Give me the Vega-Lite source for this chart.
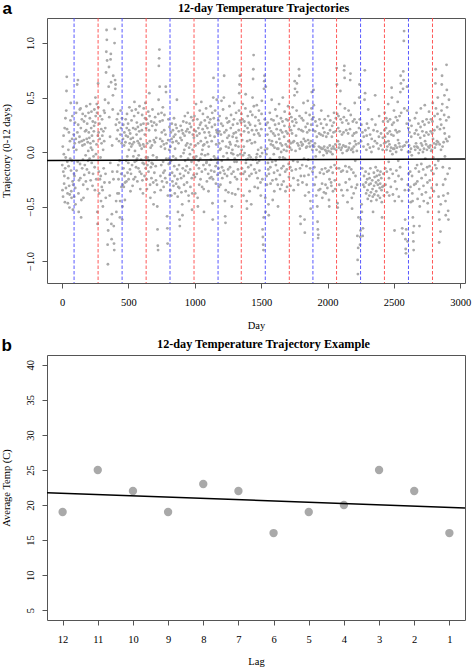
{
"$schema": "https://vega.github.io/schema/vega-lite/v6.json",
"background": "white",
"padding": {"left": 0, "top": -2, "right": 0, "bottom": 0},
"spacing": 3,
"config": {
"view": {"stroke": "#555"},
"axis": {"labelFont": "Liberation Serif", "titleFont": "Liberation Serif", "labelFontSize": 10.5, "titleFontSize": 10.5, "titleFontWeight": "normal", "labelColor": "#000", "titleColor": "#000", "tickColor": "#555", "domain": false, "grid": false, "tickSize": 5, "labelPadding": 9, "labelOverlap": false, "labelFlush": false}
},
"vconcat": [
{
"width": 418, "height": 265,
"resolve": {"axis": {"x": "independent", "y": "independent"}},
"layer": [
{"data": {"values": "day,traj\n1,-0.12\n3,-0.35\n5,0.05\n7,-0.41\n9,-0.18\n11,0.15\n13,-0.02\n15,-0.29\n17,-0.22\n19,0.22\n21,-0.46\n23,-0.15\n25,0.31\n27,-0.05\n29,-0.33\n31,0.38\n33,0.56\n35,0.69\n37,0.21\n39,-0.09\n41,-0.38\n43,-0.47\n45,-0.24\n47,0.02\n49,-0.13\n51,0.18\n53,-0.31\n55,-0.51\n57,-0.39\n59,0.1\n61,-0.06\n63,0.29\n65,0.45\n67,-0.17\n69,-0.36\n71,-0.42\n73,-0.08\n75,0.12\n77,0.33\n79,-0.27\n81,-0.53\n83,-0.3\n85,0.04\n87,0.16\n89,-0.2\n91,-0.41\n93,-0.22\n95,0.08\n97,0.27\n99,-0.33\n101,-0.48\n103,0.12\n105,0.36\n107,0.02\n109,-0.17\n111,0.45\n113,0.62\n115,0.18\n117,-0.09\n119,0.66\n121,0.25\n123,-0.38\n125,-0.55\n127,-0.26\n129,0.09\n131,0.14\n133,0.39\n135,-0.11\n137,-0.24\n139,0.4\n141,0.22\n143,-0.6\n145,-0.44\n147,0.1\n149,0.3\n151,-0.15\n153,0.06\n155,0.35\n157,-0.07\n159,-0.3\n161,-0.42\n163,0.11\n165,0.28\n167,-0.21\n169,0.07\n171,-0.12\n173,0.19\n175,0.33\n177,-0.03\n179,-0.27\n181,0.2\n183,0.42\n185,0.12\n187,-0.16\n189,0.26\n191,-0.34\n193,0.09\n195,-0.08\n197,0.01\n199,0.36\n201,0.18\n203,-0.19\n205,0.13\n207,-0.06\n209,0.31\n211,0.44\n213,0.08\n215,-0.26\n217,0.04\n219,0.22\n221,0.37\n223,-0.1\n225,0.15\n227,0.02\n229,-0.31\n231,0.28\n233,-0.2\n235,0.1\n237,-0.04\n239,0.19\n241,0.24\n243,0.39\n245,-0.14\n247,-0.35\n249,0.27\n251,0.5\n253,0.33\n255,-0.02\n257,-0.25\n259,0.07\n261,0.44\n263,0.36\n265,-0.55\n267,-0.66\n269,0.15\n271,0.63\n273,0.41\n275,0.18\n277,-0.18\n279,-0.38\n281,0.26\n283,0.12\n285,-0.25\n287,0.33\n289,-0.05\n291,-0.22\n293,-0.45\n295,0.21\n297,0.08\n299,-0.32\n301,0.3\n303,0.15\n305,-0.35\n307,-0.5\n309,0.02\n311,0.19\n313,-0.15\n315,0.38\n317,0.1\n319,-0.28\n321,0.36\n323,0.48\n325,0.22\n327,-0.2\n329,-0.42\n331,0.73\n333,0.92\n335,1.12\n337,1.03\n339,0.84\n341,-0.62\n343,-0.85\n345,-1.03\n347,-0.72\n349,0.45\n351,0.6\n353,0.78\n355,0.32\n357,-0.28\n359,-0.4\n361,0.14\n363,-0.1\n365,0.85\n367,0.9\n369,0.64\n371,-0.66\n373,-0.8\n375,-0.57\n377,0.06\n379,-0.18\n381,0.39\n383,0.52\n385,0.7\n387,-0.25\n389,-0.68\n391,-0.84\n393,-0.9\n395,1.0\n397,1.13\n399,0.66\n401,0.58\n403,0.62\n405,0.25\n407,-0.45\n409,-0.55\n411,0.12\n413,0.3\n415,-0.18\n417,-0.38\n419,0.2\n421,0.35\n423,-0.12\n425,-0.25\n427,-0.38\n429,0.1\n431,0.27\n433,-0.08\n435,-0.6\n437,-0.45\n439,0.16\n441,0.38\n443,0.22\n445,-0.2\n447,-0.32\n449,0.08\n451,0.31\n453,-0.62\n455,-0.5\n457,-0.3\n459,0.12\n461,0.25\n463,-0.15\n465,-0.32\n467,0.06\n469,0.18\n471,-0.22\n473,-0.44\n475,-0.28\n477,0.09\n479,0.3\n481,0.15\n483,-0.08\n485,-0.27\n487,0.22\n489,0.35\n491,-0.04\n493,-0.19\n495,0.14\n497,0.26\n499,-0.1\n501,-0.25\n503,0.02\n505,0.2\n507,0.41\n509,0.08\n511,-0.16\n513,0.17\n515,-0.36\n517,0.12\n519,-0.2\n521,0.05\n523,0.29\n525,0.38\n527,-0.12\n529,0.07\n531,-0.31\n533,0.13\n535,0.22\n537,-0.04\n539,-0.25\n541,0.09\n543,0.33\n545,0.46\n547,-0.09\n549,0.01\n551,-0.23\n553,0.21\n555,0.39\n557,-0.14\n559,-0.08\n561,0.16\n563,0.27\n565,-0.06\n567,-0.27\n569,0.1\n571,0.23\n573,0.36\n575,-0.15\n577,-0.03\n579,0.08\n581,0.19\n583,0.42\n585,-0.18\n587,0.06\n589,-0.34\n591,0.12\n593,0.25\n595,-0.07\n597,-0.2\n599,0.03\n601,0.2\n603,0.34\n605,-0.26\n607,-0.1\n609,-0.38\n611,0.07\n613,0.26\n615,0.4\n617,-0.11\n619,0.05\n621,-0.22\n623,0.16\n625,0.31\n627,0.45\n629,-0.15\n631,-0.05\n633,0.22\n635,0.3\n637,-0.25\n639,-0.34\n641,0.08\n643,-0.12\n645,-0.05\n647,0.26\n649,0.37\n651,-0.18\n653,-0.08\n655,0.2\n657,0.54\n659,0.33\n661,0.1\n663,-0.3\n665,-0.42\n667,0.04\n669,-0.14\n671,0.28\n673,-0.24\n675,-0.1\n677,0.06\n679,0.24\n681,0.39\n683,-0.11\n685,-0.03\n687,-0.28\n689,-0.48\n691,0.11\n693,0.27\n695,-0.19\n697,-0.37\n699,0.09\n701,0.32\n703,0.2\n705,-0.13\n707,-0.26\n709,0.13\n711,0.25\n713,-0.05\n715,-0.3\n717,-0.5\n719,-0.71\n721,-0.86\n723,-0.9\n725,0.35\n727,0.48\n729,0.79\n731,0.86\n733,0.94\n735,0.6\n737,0.28\n739,0.12\n741,-0.22\n743,-0.35\n745,0.05\n747,-0.12\n749,0.36\n751,0.18\n753,-0.27\n755,0.1\n757,0.29\n759,0.41\n761,-0.09\n763,-0.19\n765,-0.32\n767,0.07\n769,0.2\n771,0.34\n773,-0.17\n775,0.03\n777,-0.24\n779,0.16\n781,0.6\n783,0.55\n785,-0.06\n787,0.08\n789,-0.28\n791,-0.59\n793,-0.7\n795,-0.84\n797,-0.4\n799,0.11\n801,0.3\n803,-0.11\n805,-0.06\n807,0.02\n809,0.23\n811,-0.21\n813,-0.1\n815,-0.35\n817,0.05\n819,0.18\n821,-0.08\n823,-0.4\n825,0.12\n827,0.26\n829,-0.19\n831,-0.27\n833,0.09\n835,0.2\n837,-0.04\n839,-0.31\n841,0.14\n843,0.31\n845,-0.13\n847,-0.22\n849,-0.38\n851,0.03\n853,0.16\n855,0.25\n857,-0.06\n859,-0.29\n861,0.1\n863,0.22\n865,0.48\n867,-0.16\n869,-0.25\n871,-0.41\n873,-0.55\n875,-0.32\n877,0.08\n879,0.19\n881,-0.12\n883,-0.33\n885,-0.62\n887,-0.68\n889,-0.2\n891,0.13\n893,0.24\n895,-0.04\n897,-0.24\n899,-0.37\n901,0.11\n903,0.2\n905,-0.48\n907,-0.58\n909,-0.15\n911,0.17\n913,0.28\n915,-0.01\n917,-0.22\n919,-0.3\n921,0.02\n923,0.15\n925,0.33\n927,-0.08\n929,-0.17\n931,-0.36\n933,0.06\n935,0.19\n937,0.27\n939,-0.13\n941,-0.28\n943,0.08\n945,0.21\n947,0.36\n949,-0.06\n951,-0.19\n953,-0.4\n955,-0.45\n957,0.04\n959,0.18\n961,0.26\n963,-0.02\n965,-0.16\n967,-0.32\n969,0.07\n971,0.23\n973,0.32\n975,-0.09\n977,-0.24\n979,-0.53\n981,-0.38\n983,0.02\n985,0.16\n987,0.29\n989,-0.05\n991,-0.21\n993,0.13\n995,0.2\n997,0.33\n999,-0.06\n1001,-0.23\n1003,-0.38\n1005,0.06\n1007,0.19\n1009,0.44\n1011,-0.04\n1013,-0.12\n1015,-0.2\n1017,0.15\n1019,0.3\n1021,-0.42\n1023,-0.5\n1025,0.08\n1027,0.22\n1029,-0.08\n1031,-0.15\n1033,-0.3\n1035,0.17\n1037,0.38\n1039,0.25\n1041,-0.06\n1043,-0.25\n1045,0.1\n1047,0.27\n1049,0.46\n1051,-0.02\n1053,-0.18\n1055,-0.32\n1057,0.02\n1059,0.21\n1061,0.35\n1063,0.06\n1065,-0.12\n1067,-0.34\n1069,-0.55\n1071,0.07\n1073,0.18\n1075,0.29\n1077,-0.03\n1079,-0.16\n1081,0.13\n1083,0.24\n1085,0.4\n1087,-0.1\n1089,-0.09\n1091,-0.27\n1093,0.09\n1095,0.22\n1097,0.32\n1099,-0.02\n1101,-0.2\n1103,-0.36\n1105,0.05\n1107,0.18\n1109,0.27\n1111,-0.12\n1113,-0.24\n1115,0.15\n1117,0.3\n1119,0.42\n1121,-0.07\n1123,-0.17\n1125,-0.23\n1127,0.1\n1129,0.23\n1131,0.36\n1133,-0.47\n1135,-0.62\n1137,-0.25\n1139,0.5\n1141,0.68\n1143,0.31\n1145,-0.04\n1147,-0.18\n1149,0.14\n1151,0.25\n1153,0.38\n1155,-0.06\n1157,-0.13\n1159,-0.29\n1161,0.07\n1163,0.2\n1165,0.48\n1167,0.18\n1169,-0.1\n1171,-0.21\n1173,-0.06\n1175,0.17\n1177,0.29\n1179,-0.15\n1181,-0.32\n1183,0.08\n1185,0.19\n1187,0.33\n1189,0.02\n1191,-0.19\n1193,-0.3\n1195,0.03\n1197,0.16\n1199,0.26\n1201,0.47\n1203,-0.08\n1205,-0.14\n1207,-0.24\n1209,0.1\n1211,0.24\n1213,0.39\n1215,-0.04\n1217,-0.17\n1219,0.5\n1221,0.7\n1223,0.18\n1225,-0.2\n1227,-0.45\n1229,-0.59\n1231,-0.65\n1233,-0.35\n1235,0.05\n1237,0.2\n1239,0.31\n1241,-0.01\n1243,-0.22\n1245,0.13\n1247,0.27\n1249,-0.06\n1251,-0.16\n1253,-0.37\n1255,0.04\n1257,0.15\n1259,0.28\n1261,0.42\n1263,0.09\n1265,-0.14\n1267,-0.28\n1269,0.07\n1271,0.22\n1273,0.34\n1275,-0.01\n1277,-0.2\n1279,-0.5\n1281,-0.38\n1283,0.02\n1285,0.14\n1287,0.25\n1289,-0.02\n1291,-0.18\n1293,0.17\n1295,0.3\n1297,0.45\n1299,-0.09\n1301,-0.06\n1303,-0.23\n1305,-0.39\n1307,0.06\n1309,0.18\n1311,0.36\n1313,0.13\n1315,-0.09\n1317,-0.25\n1319,0.1\n1321,0.26\n1323,-0.03\n1325,-0.16\n1327,-0.34\n1329,0.05\n1331,0.2\n1333,0.38\n1335,0.54\n1337,0.62\n1339,0.7\n1341,0.29\n1343,-0.02\n1345,-0.2\n1347,0.16\n1349,0.27\n1351,0.35\n1353,0.02\n1355,-0.15\n1357,0.11\n1359,0.3\n1361,0.44\n1363,-0.03\n1365,-0.2\n1367,-0.4\n1369,0.05\n1371,0.19\n1373,0.28\n1375,-0.01\n1377,-0.18\n1379,0.24\n1381,0.4\n1383,0.53\n1385,-0.1\n1387,-0.07\n1389,-0.25\n1391,-0.45\n1393,-0.52\n1395,0.1\n1397,0.22\n1399,0.33\n1401,-0.06\n1403,-0.14\n1405,0.18\n1407,0.27\n1409,-0.03\n1411,-0.22\n1413,-0.36\n1415,0.11\n1417,0.25\n1419,0.37\n1421,-0.05\n1423,-0.12\n1425,-0.48\n1427,-0.2\n1429,0.08\n1431,0.2\n1433,0.34\n1435,0.5\n1437,-0.07\n1439,0.67\n1441,0.76\n1443,0.89\n1445,0.42\n1447,0.16\n1449,-0.16\n1451,-0.32\n1453,0.09\n1455,0.24\n1457,0.32\n1459,-0.07\n1461,-0.19\n1463,-0.05\n1465,0.2\n1467,0.43\n1469,-0.02\n1471,-0.1\n1473,-0.24\n1475,-0.33\n1477,0.02\n1479,0.17\n1481,0.29\n1483,0.38\n1485,-0.08\n1487,-0.17\n1489,0.15\n1491,0.26\n1493,-0.04\n1495,-0.28\n1497,-0.4\n1499,0.04\n1501,0.21\n1503,0.35\n1505,0.47\n1507,-0.01\n1509,-0.25\n1511,-0.71\n1513,-0.78\n1515,-0.85\n1517,-0.9\n1519,-0.6\n1521,0.58\n1523,0.65\n1525,0.7\n1527,0.3\n1529,0.02\n1531,-0.42\n1533,-0.55\n1535,0.6\n1537,0.25\n1539,-0.02\n1541,-0.22\n1543,-0.3\n1545,0.03\n1547,0.16\n1549,0.27\n1551,-0.1\n1553,-0.16\n1555,-0.48\n1557,-0.58\n1559,-0.2\n1561,0.11\n1563,0.22\n1565,0.36\n1567,-0.06\n1569,-0.14\n1571,-0.29\n1573,0.07\n1575,0.19\n1577,0.3\n1579,0.48\n1581,0.1\n1583,-0.09\n1585,-0.26\n1587,-0.44\n1589,0.06\n1591,0.17\n1593,0.29\n1595,-0.02\n1597,-0.19\n1599,-0.36\n1601,0.04\n1603,0.15\n1605,0.25\n1607,0.39\n1609,-0.08\n1611,-0.12\n1613,-0.25\n1615,0.09\n1617,0.21\n1619,0.33\n1621,0.03\n1623,-0.17\n1625,-0.3\n1627,-0.5\n1629,0.03\n1631,0.16\n1633,0.26\n1635,0.44\n1637,0.12\n1639,-0.05\n1641,-0.21\n1643,-0.34\n1645,0.08\n1647,0.2\n1649,0.31\n1651,0.0\n1653,-0.15\n1655,-0.3\n1657,0.06\n1659,0.18\n1661,0.28\n1663,0.5\n1665,-0.05\n1667,-0.13\n1669,-0.27\n1671,0.02\n1673,0.14\n1675,0.24\n1677,0.37\n1679,-0.06\n1681,-0.18\n1683,-0.36\n1685,0.07\n1687,0.19\n1689,0.3\n1691,0.01\n1693,-0.16\n1695,-0.32\n1697,0.05\n1699,0.17\n1701,0.29\n1703,0.42\n1705,0.1\n1707,-0.11\n1709,-0.23\n1711,0.1\n1713,0.23\n1715,0.35\n1717,0.04\n1719,-0.14\n1721,-0.31\n1723,0.08\n1725,0.2\n1727,0.32\n1729,0.02\n1731,-0.17\n1733,0.17\n1735,0.28\n1737,0.41\n1739,0.09\n1741,-0.08\n1743,-0.24\n1745,-0.35\n1747,0.1\n1749,0.24\n1751,0.52\n1753,0.65\n1755,0.58\n1757,0.3\n1759,0.01\n1761,-0.16\n1763,0.15\n1765,0.27\n1767,0.38\n1769,0.63\n1771,0.55\n1773,0.08\n1775,-0.09\n1777,-0.26\n1779,-0.3\n1781,0.06\n1783,0.21\n1785,0.76\n1787,0.7\n1789,0.33\n1791,0.03\n1793,-0.15\n1795,-0.59\n1797,-0.66\n1799,-0.22\n1801,0.09\n1803,0.2\n1805,0.31\n1807,0.06\n1809,-0.12\n1811,-0.28\n1813,0.07\n1815,0.19\n1817,0.29\n1819,0.45\n1821,0.12\n1823,-0.06\n1825,-0.22\n1827,-0.62\n1829,-0.74\n1831,-0.4\n1833,0.1\n1835,0.23\n1837,0.36\n1839,0.04\n1841,-0.13\n1843,-0.3\n1845,0.05\n1847,0.18\n1849,0.26\n1851,0.47\n1853,0.11\n1855,-0.07\n1857,-0.21\n1859,-0.37\n1861,0.08\n1863,0.2\n1865,0.34\n1867,0.05\n1869,-0.15\n1871,-0.45\n1873,-0.52\n1875,0.1\n1877,0.25\n1879,0.4\n1881,0.55\n1883,0.3\n1885,0.02\n1887,-0.18\n1889,0.06\n1891,0.2\n1893,0.32\n1895,0.57\n1897,0.43\n1899,0.05\n1901,-0.14\n1903,-0.3\n1905,0.08\n1907,0.19\n1909,0.28\n1911,-0.04\n1913,-0.23\n1915,-0.4\n1917,0.02\n1919,0.14\n1921,0.24\n1923,-0.5\n1925,-0.64\n1927,-0.71\n1929,-0.79\n1931,-0.76\n1933,-0.35\n1935,0.05\n1937,0.17\n1939,0.3\n1941,0.0\n1943,-0.19\n1945,-0.34\n1947,0.04\n1949,0.16\n1951,0.26\n1953,0.38\n1955,0.03\n1957,-0.16\n1959,-0.29\n1961,-0.42\n1963,0.03\n1965,0.15\n1967,0.22\n1969,-0.03\n1971,-0.2\n1973,-0.37\n1975,0.05\n1977,0.18\n1979,0.3\n1981,0.02\n1983,-0.15\n1985,-0.3\n1987,-0.38\n1989,0.01\n1991,0.14\n1993,0.25\n1995,-0.01\n1997,-0.18\n1999,-0.33\n2001,0.04\n2003,0.17\n2005,0.33\n2007,0.01\n2009,-0.17\n2011,-0.44\n2013,-0.5\n2015,-0.25\n2017,0.06\n2019,0.2\n2021,0.29\n2023,0.0\n2025,-0.14\n2027,-0.28\n2029,-0.31\n2031,0.03\n2033,0.14\n2035,0.24\n2037,-0.02\n2039,-0.19\n2041,-0.36\n2043,0.05\n2045,0.18\n2047,0.27\n2049,0.36\n2051,0.03\n2053,-0.12\n2055,-0.26\n2057,-0.34\n2059,0.07\n2061,0.19\n2063,0.31\n2065,0.02\n2067,-0.15\n2069,0.77\n2071,0.62\n2073,0.35\n2075,-0.47\n2077,-0.51\n2079,0.1\n2081,0.22\n2083,0.33\n2085,0.04\n2087,-0.15\n2089,-0.3\n2091,0.07\n2093,0.19\n2095,0.44\n2097,0.56\n2099,0.3\n2101,0.02\n2103,-0.18\n2105,-0.35\n2107,0.04\n2109,0.16\n2111,0.27\n2113,-0.01\n2115,-0.17\n2117,-0.4\n2119,0.06\n2121,0.18\n2123,0.32\n2125,0.75\n2127,0.79\n2129,0.68\n2131,0.4\n2133,0.05\n2135,-0.13\n2137,-0.28\n2139,0.05\n2141,0.2\n2143,0.29\n2145,0.01\n2147,-0.18\n2149,-0.35\n2151,-0.46\n2153,0.02\n2155,0.17\n2157,0.26\n2159,0.38\n2161,0.04\n2163,-0.14\n2165,-0.25\n2167,0.08\n2169,0.21\n2171,0.66\n2173,0.72\n2175,0.34\n2177,0.02\n2179,-0.16\n2181,-0.32\n2183,-0.42\n2185,-0.52\n2187,0.03\n2189,0.15\n2191,0.28\n2193,0.0\n2195,-0.19\n2197,-0.38\n2199,0.05\n2201,0.17\n2203,0.3\n2205,0.45\n2207,0.1\n2209,-0.08\n2211,-0.22\n2213,-0.33\n2215,0.07\n2217,0.18\n2219,0.27\n2221,0.01\n2223,-0.3\n2225,-0.77\n2227,-0.99\n2229,-1.12\n2231,-0.88\n2233,-0.6\n2235,0.08\n2237,0.22\n2239,0.5\n2241,0.62\n2243,0.3\n2245,-0.85\n2247,-0.78\n2249,-0.72\n2251,-0.62\n2253,0.1\n2255,0.25\n2257,-0.48\n2259,-0.55\n2261,-0.15\n2263,0.18\n2265,-0.77\n2267,-0.7\n2269,-0.3\n2271,0.05\n2273,0.14\n2275,-0.22\n2277,-0.32\n2279,0.48\n2281,0.75\n2283,0.54\n2285,0.2\n2287,-0.18\n2289,-0.28\n2291,-0.38\n2293,0.02\n2295,0.15\n2297,0.26\n2299,-0.25\n2301,-0.35\n2303,-0.43\n2305,0.07\n2307,0.39\n2309,0.22\n2311,-0.2\n2313,-0.3\n2315,-0.4\n2317,-0.24\n2319,0.04\n2321,0.16\n2323,-0.15\n2325,-0.29\n2327,-0.37\n2329,-0.45\n2331,0.0\n2333,0.12\n2335,0.3\n2337,-0.26\n2339,-0.34\n2341,-0.41\n2343,-0.55\n2345,0.05\n2347,0.2\n2349,-0.19\n2351,-0.31\n2353,-0.39\n2355,-0.23\n2357,0.1\n2359,0.52\n2361,0.25\n2363,-0.14\n2365,-0.28\n2367,-0.36\n2369,-0.44\n2371,-0.22\n2373,0.08\n2375,0.19\n2377,-0.17\n2379,-0.3\n2381,-0.4\n2383,-0.26\n2385,0.03\n2387,0.14\n2389,0.33\n2391,-0.21\n2393,-0.33\n2395,-0.42\n2397,-0.29\n2399,-0.18\n2401,0.06\n2403,0.17\n2405,-0.24\n2407,-0.35\n2409,-0.46\n2411,-0.6\n2413,-0.32\n2415,0.02\n2417,0.13\n2419,0.28\n2421,-0.2\n2423,-0.31\n2425,-0.4\n2427,0.08\n2429,0.2\n2431,0.36\n2433,0.14\n2435,-0.15\n2437,-0.3\n2439,0.09\n2441,0.22\n2443,0.31\n2445,0.02\n2447,-0.18\n2449,-0.37\n2451,0.05\n2453,0.17\n2455,0.28\n2457,0.44\n2459,0.1\n2461,-0.09\n2463,-0.24\n2465,-0.4\n2467,0.07\n2469,0.19\n2471,0.3\n2473,0.01\n2475,-0.16\n2477,-0.32\n2479,0.04\n2481,0.16\n2483,0.59\n2485,0.5\n2487,0.25\n2489,-0.02\n2491,-0.2\n2493,-0.39\n2495,0.03\n2497,0.15\n2499,0.27\n2501,0.38\n2503,0.03\n2505,-0.72\n2507,-0.45\n2509,-0.27\n2511,0.06\n2513,0.2\n2515,0.32\n2517,0.0\n2519,-0.17\n2521,-0.34\n2523,0.04\n2525,0.18\n2527,0.29\n2529,0.46\n2531,0.11\n2533,-0.08\n2535,-0.22\n2537,-0.41\n2539,0.08\n2541,0.19\n2543,0.33\n2545,0.05\n2547,-0.14\n2549,0.55\n2551,0.7\n2553,0.63\n2555,0.36\n2557,0.02\n2559,-0.25\n2561,-0.45\n2563,-0.7\n2565,-0.75\n2567,0.05\n2569,0.58\n2571,0.74\n2573,0.66\n2575,1.02\n2577,1.11\n2579,0.4\n2581,0.06\n2583,-0.35\n2585,-0.62\n2587,-0.8\n2589,-0.89\n2591,-0.93\n2593,-0.71\n2595,0.09\n2597,0.26\n2599,0.6\n2601,0.38\n2603,-0.82\n2605,-0.3\n2607,0.0\n2609,0.22\n2611,-0.2\n2613,-0.35\n2615,0.06\n2617,0.18\n2619,0.29\n2621,0.0\n2623,-0.18\n2625,-0.32\n2627,-0.46\n2629,0.03\n2631,0.14\n2633,0.24\n2635,-0.03\n2637,-0.22\n2639,-0.38\n2641,-0.45\n2643,-0.6\n2645,-0.74\n2647,-0.82\n2649,-0.9\n2651,-0.68\n2653,-0.3\n2655,0.05\n2657,0.17\n2659,0.31\n2661,0.02\n2663,-0.15\n2665,-0.29\n2667,0.08\n2669,0.2\n2671,0.36\n2673,0.05\n2675,-0.12\n2677,-0.27\n2679,-0.43\n2681,0.04\n2683,0.16\n2685,0.26\n2687,-0.01\n2689,-0.18\n2691,-0.34\n2693,-0.68\n2695,-0.5\n2697,0.02\n2699,0.13\n2701,0.23\n2703,0.4\n2705,0.08\n2707,-0.11\n2709,-0.24\n2711,-0.39\n2713,0.06\n2715,0.19\n2717,0.28\n2719,0.0\n2721,-0.16\n2723,-0.31\n2725,-0.45\n2727,0.03\n2729,0.15\n2731,0.25\n2733,0.43\n2735,0.1\n2737,-0.06\n2739,-0.21\n2741,-0.37\n2743,0.07\n2745,0.18\n2747,0.3\n2749,0.02\n2751,-0.14\n2753,-0.28\n2755,-0.47\n2757,-0.55\n2759,0.05\n2761,0.16\n2763,0.27\n2765,0.37\n2767,0.04\n2769,-0.13\n2771,-0.26\n2773,-0.42\n2775,0.06\n2777,0.19\n2779,0.3\n2781,0.01\n2783,-0.17\n2785,-0.33\n2787,0.02\n2789,0.17\n2791,0.28\n2793,0.45\n2795,0.12\n2797,-0.05\n2799,-0.2\n2801,-0.36\n2803,0.08\n2805,0.2\n2807,0.33\n2809,0.04\n2811,-0.12\n2813,0.63\n2815,0.76\n2817,0.4\n2819,0.07\n2821,-0.15\n2823,-0.3\n2825,0.1\n2827,0.23\n2829,0.35\n2831,0.5\n2833,0.09\n2835,-0.08\n2837,-0.41\n2839,-0.55\n2841,-0.83\n2843,-0.62\n2845,0.07\n2847,0.21\n2849,0.3\n2851,-0.73\n2853,-0.48\n2855,0.02\n2857,0.25\n2859,0.38\n2861,0.62\n2863,0.7\n2865,0.44\n2867,0.05\n2869,-0.14\n2871,-0.3\n2873,-0.4\n2875,0.09\n2877,0.22\n2879,0.34\n2881,0.52\n2883,0.17\n2885,-0.04\n2887,-0.25\n2889,-0.45\n2891,-0.58\n2893,0.12\n2895,0.29\n2897,0.8\n2899,0.57\n2901,0.41\n2903,0.1\n2905,-0.2\n2907,-0.38\n2909,-0.54\n2911,-0.62\n2913,0.32\n2915,0.48\n2917,0.14\n2919,-0.15", "format": {"type": "csv", "parse": {"day": "number", "traj": "number"}}},
"mark": {"type": "circle", "size": 8, "color": "#A9A9A9", "opacity": 1},
"encoding": {
"x": {"field": "day", "type": "quantitative", "scale": {"domain": [-114, 3036], "nice": false, "zero": false}, "axis": {"values": [0, 500, 1000, 1500, 2000, 2500, 3000], "format": "d", "title": "Day", "titlePadding": 13, "labelOverlap": false}},
"y": {"field": "traj", "type": "quantitative", "scale": {"domain": [-1.202, 1.23], "nice": false, "zero": false}, "axis": {"values": [-1, -0.5, 0, 0.5, 1], "format": ".1f", "title": "Trajectory (0-12 days)", "labelAngle": -90, "labelAlign": "center", "labelBaseline": "bottom", "labelPadding": 7, "titlePadding": 13.5, "labelOverlap": false}}
}},
{"data": {"values": [{"day": 90, "kind": "blue"}, {"day": 271, "kind": "red"}, {"day": 452, "kind": "blue"}, {"day": 633, "kind": "red"}, {"day": 813, "kind": "blue"}, {"day": 994, "kind": "red"}, {"day": 1175, "kind": "blue"}, {"day": 1350, "kind": "red"}, {"day": 1531, "kind": "blue"}, {"day": 1712, "kind": "red"}, {"day": 1890, "kind": "blue"}, {"day": 2068, "kind": "red"}, {"day": 2249, "kind": "blue"}, {"day": 2429, "kind": "red"}, {"day": 2610, "kind": "blue"}, {"day": 2791, "kind": "red"}]},
"mark": {"type": "rule", "strokeDash": [3.5, 2], "strokeWidth": 0.9},
"encoding": {
"x": {"field": "day", "type": "quantitative", "axis": {"orient": "top", "labels": false, "ticks": false, "title": "12-day Temperature Trajectories", "titleFontWeight": "bold", "titleFontSize": 12.2, "titleX": 216, "titleY": -7, "titleAlign": "center", "titleBaseline": "alphabetic", "titleAngle": 0}},
"color": {"field": "kind", "type": "nominal", "scale": {"domain": ["blue", "red"], "range": ["#4545ff", "#ff4545"]}, "legend": null}
}},
{"data": {"values": [{"day": -114, "traj": -0.078}, {"day": 3036, "traj": -0.063}]},
"mark": {"type": "line", "color": "#000", "strokeWidth": 1.5},
"encoding": {
"x": {"field": "day", "type": "quantitative", "axis": null},
"y": {"field": "traj", "type": "quantitative", "axis": {"orient": "left", "labels": false, "ticks": false, "title": "a", "titleFont": "Liberation Sans", "titleFontWeight": "bold", "titleFontSize": 17, "titleAngle": 0, "titleX": -45, "titleY": -5, "titleAlign": "left", "titleBaseline": "alphabetic"}}
}}
]
},
{
"width": 418, "height": 265,
"resolve": {"axis": {"x": "independent", "y": "independent"}},
"layer": [
{"data": {"values": [{"lag": 12, "temp": 19}, {"lag": 11, "temp": 25}, {"lag": 10, "temp": 22}, {"lag": 9, "temp": 19}, {"lag": 8, "temp": 23}, {"lag": 7, "temp": 22}, {"lag": 6, "temp": 16}, {"lag": 5, "temp": 19}, {"lag": 4, "temp": 20}, {"lag": 3, "temp": 25}, {"lag": 2, "temp": 22}, {"lag": 1, "temp": 16}]},
"mark": {"type": "circle", "size": 70, "color": "#A9A9A9", "opacity": 1},
"encoding": {
"x": {"field": "lag", "type": "quantitative", "scale": {"domain": [0.556, 12.444], "reverse": true, "nice": false, "zero": false}, "axis": {"values": [1, 2, 3, 4, 5, 6, 7, 8, 9, 10, 11, 12], "title": "Lag", "titlePadding": 12, "labelOverlap": false}},
"y": {"field": "temp", "type": "quantitative", "scale": {"domain": [3.6, 41.4], "nice": false, "zero": false}, "axis": {"values": [5, 10, 15, 20, 25, 30, 35, 40], "title": "Average Temp (C)", "labelAngle": -90, "labelAlign": "center", "labelBaseline": "bottom", "labelPadding": 7, "titlePadding": 13.5, "labelOverlap": false}}
}},
{"data": {"values": [{"lag": 12.444, "temp": 21.75}, {"lag": 0.556, "temp": 19.59}]},
"mark": {"type": "line", "color": "#000", "strokeWidth": 1.5},
"encoding": {
"x": {"field": "lag", "type": "quantitative", "axis": {"orient": "top", "labels": false, "ticks": false, "title": "12-day Temperature Trajectory Example", "titleFontWeight": "bold", "titleFontSize": 12.2, "titleX": 216, "titleY": -8, "titleAlign": "center", "titleBaseline": "alphabetic", "titleAngle": 0}},
"y": {"field": "temp", "type": "quantitative", "axis": {"orient": "left", "labels": false, "ticks": false, "title": "b", "titleFont": "Liberation Sans", "titleFontWeight": "bold", "titleFontSize": 17, "titleAngle": 0, "titleX": -46, "titleY": -5, "titleAlign": "left", "titleBaseline": "alphabetic"}}
}}
]
}
]
}
